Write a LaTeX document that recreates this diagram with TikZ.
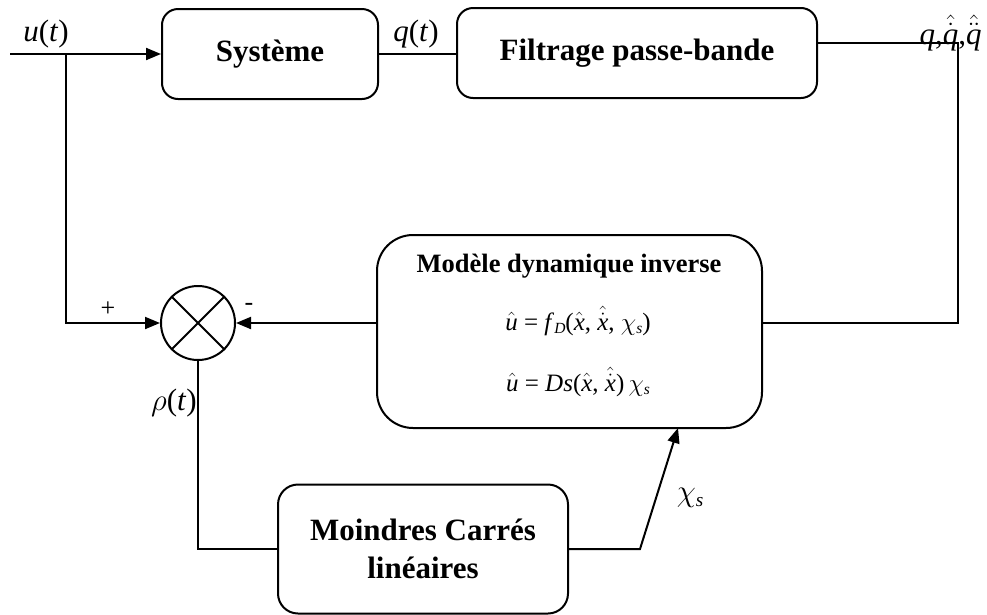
\RequirePackage{fix-cm}
\documentclass[tikz,border=0pt]{standalone}
\usepackage{mathspec}
\setmainfont{Liberation Serif}
\setmathsfont(Digits,Latin){Liberation Serif}
\setmathrm{Liberation Serif}
\usetikzlibrary{arrows.meta}

% italic letter, lowered italic index, accented italic letters
\newcommand\iv[1]{\textit{#1}}
\newcommand\idx[1]{\raisebox{-0.32ex}{\fontsize{0.62em}{0.62em}\selectfont\textit{#1}}}
\newcommand\hv[1]{$\hat{#1}$}
\newcommand\hdv[1]{$\hat{\dot{#1}}$}
\newcommand\hddv[1]{$\hat{\ddot{#1}}$}
\newcommand\gchi{$\chi$}
\newcommand\grho{$\rho$}

\begin{document}
\begin{tikzpicture}[x=1pt,y=-1pt,
  line width=2pt,
  blockbox/.style={draw, rounded corners=16pt, inner sep=0pt,
    font=\fontsize{31}{38}\selectfont\bfseries, align=center},
  sig/.style={font=\fontsize{31}{32}\selectfont},
  eqn/.style={font=\fontsize{25}{28}\selectfont},
  tip/.style={-{Triangle[length=15pt,width=12pt]}},
  sign/.style={font=\fontsize{26}{28}\selectfont}]
  \useasboundingbox (0,0) rectangle (987,614);

  % blocks
  \node[blockbox, minimum width=216pt, minimum height=90pt] (sys) at (270,54) {Système};
  \node[blockbox, minimum width=360pt, minimum height=90pt] (filt) at (637,53) {Filtrage passe-bande};
  \node[draw, rounded corners=36pt, minimum width=385pt, minimum height=193pt] (mod) at (569.5,331.5) {};
  \node[font=\fontsize{26.5}{30}\selectfont\bfseries] (modtitle) at (569,266) {Modèle dynamique inverse};
  \node[eqn] (eqa) at (578,321) {\hv{u} = \iv{f}\idx{D}(\hv{x}, \hdv{x}, \gchi\idx{s})};
  \node[eqn] (eqb) at (578,382) {\hv{u} = \iv{Ds}(\hv{x}, \hdv{x})\,\gchi\idx{s}};
  \node[blockbox, rounded corners=20pt, minimum width=290pt, minimum height=129pt] (mc) at (423,549) {Moindres Carrés\\linéaires};

  % summing junction
  \node[draw, circle, minimum size=74pt, inner sep=0pt] (sum) at (198,323) {};
  \draw (sum.45) -- (sum.225) (sum.135) -- (sum.315);

  % auxiliary points
  \coordinate (in) at (10,54);
  \coordinate (br) at (66,54);
  \coordinate (fo) at (958,43);
  \coordinate (kink) at (640,549);
  \coordinate (hit) at (678,428);

  % connectors
  \draw[tip] (in) -- (sys.west);
  \draw (sys.east) -- (sys.east -| filt.west);
  \draw (filt.east |- fo) -- (fo) -- (fo |- sum) -- (mod.east |- sum);
  \draw[tip] (br) -- (br |- sum) -- (sum.west);
  \draw[tip] (mod.west |- sum) -- (sum.east);
  \draw (sum.south) -- (sum.south |- mc.west) -- (mc.west);
  \draw[tip] (mc.east) -- (kink) -- (hit);

  % labels
  \node[sig] (lu) at (46,34) {\iv{u}(\iv{t})};
  \node[sig] (lq) at (416,34) {\iv{q}(\iv{t})};
  \node[sig, anchor=east] (lqq) at (986,33) {\iv{q},\hdv{q},\hddv{q}};
  \node[sign] (lplus) at (108,309) {+};
  \node[sign] (lminus) at (249,307) {-};
  \node[sig, anchor=east] (lrho) at (201,403) {\grho(\iv{t})};
  \node[sig] (lchi) at (690,498) {\gchi\idx{s}};
\end{tikzpicture}
\end{document}
